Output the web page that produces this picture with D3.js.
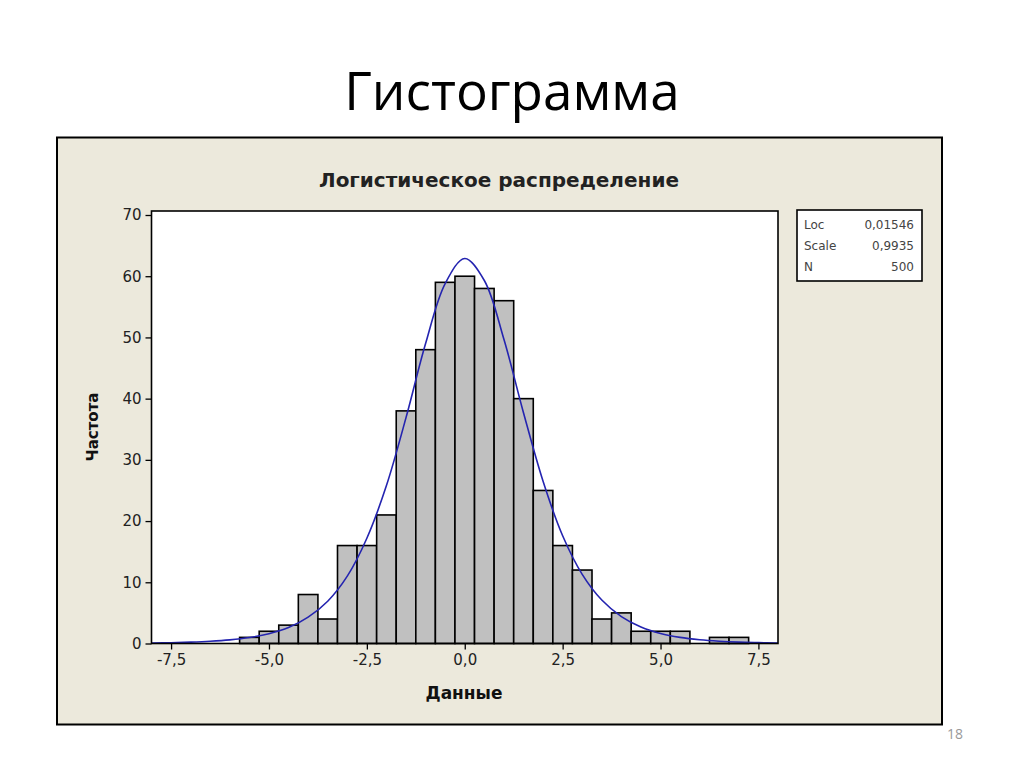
<!DOCTYPE html>
<html><head><meta charset="utf-8">
<script src="https://cdn.jsdelivr.net/npm/d3@7"></script>
<style>html,body{margin:0;padding:0;background:#fff;}svg{display:block;}</style>
</head><body>
<script>
// Data
const binCenters = [-5.5,-5.0,-4.5,-4.0,-3.5,-3.0,-2.5,-2.0,-1.5,-1.0,-0.5,0.0,0.5,1.0,1.5,2.0,2.5,3.0,3.5,4.0,4.5,5.0,5.5,6.0,6.5,7.0];
const binCounts  = [1,2,3,8,4,16,16,21,38,48,59,60,58,56,40,25,16,12,4,5,2,2,2,0,1,1];
const binWidth = 0.5;
const curveX = [-8,-7.5,-7,-6.5,-6,-5.5,-5,-4.5,-4,-3.5,-3,-2.5,-2,-1.5,-1,-0.5,0,0.5,1,1.5,2,2.5,3,3.5,4,4.5,5,5.5,6,6.5,7,7.5,8];
const curveY = [0.08,0.13,0.22,0.36,0.59,0.97,1.6,2.6,4.3,6.9,11.0,17.2,25.8,36.9,49.0,58.8,62.9,59.3,49.7,37.7,26.5,17.6,11.3,7.1,4.4,2.7,1.64,1.0,0.61,0.37,0.22,0.14,0.08];
const xTicks = [-7.5,-5.0,-2.5,0.0,2.5,5.0,7.5];
const xTickLabels = ["-7,5","-5,0","-2,5","0,0","2,5","5,0","7,5"];
const yTicks = [0,10,20,30,40,50,60,70];
const legendLabels = ["Loc","Scale","N"];
const legendValues = ["0,01546","0,9935","500"];

const W = 1024, H = 767;
const svg = d3.select("body").append("svg").attr("width", W).attr("height", H);
svg.append("rect").attr("width", W).attr("height", H).attr("fill", "#fff");

// slide title
svg.append("text").attr("x", 512).attr("y", 110).attr("text-anchor", "middle")
  .attr("font-family", "Open Sans, sans-serif").attr("font-size", 53).attr("fill", "#000")
  .text("Гистограмма");

// chart frame
svg.append("rect").attr("x", 57).attr("y", 137.5).attr("width", 885).attr("height", 587)
  .attr("fill", "#ece9dc").attr("stroke", "#000").attr("stroke-width", 2);

const font = "Tahoma, DejaVu Sans, sans-serif";
svg.append("text").attr("x", 499).attr("y", 187).attr("text-anchor", "middle")
  .attr("font-family", font).attr("font-weight", "bold").attr("font-size", 20).attr("fill", "#222")
  .text("Логистическое распределение");

const pl = 151.5, pr = 778, pt = 211, pb = 643.5;
const x = d3.scaleLinear().domain([-8, 8]).range([pl, pr]);
const y = d3.scaleLinear().domain([0, 70]).range([pb, 215]);

svg.append("rect").attr("x", pl).attr("y", pt).attr("width", pr - pl).attr("height", pb - pt)
  .attr("fill", "#fff");

// bars
svg.append("g").selectAll("rect").data(binCenters.map((c, i) => ({c, n: binCounts[i]})).filter(d => d.n > 0))
  .join("rect")
  .attr("x", d => x(d.c - binWidth / 2)).attr("width", d => x(d.c + binWidth / 2) - x(d.c - binWidth / 2))
  .attr("y", d => y(d.n)).attr("height", d => y(0) - y(d.n))
  .attr("fill", "#c0c0c0").attr("stroke", "#000").attr("stroke-width", 1.6);

// fitted curve
const line = d3.line().x((d, i) => x(curveX[i])).y(d => y(d)).curve(d3.curveCatmullRom);
svg.append("path").datum(curveY).attr("d", line).attr("fill", "none")
  .attr("stroke", "#2424b0").attr("stroke-width", 1.6);

// plot border
svg.append("rect").attr("x", pl).attr("y", pt).attr("width", pr - pl).attr("height", pb - pt)
  .attr("fill", "none").attr("stroke", "#000").attr("stroke-width", 1.6);

// axes
const xAxis = d3.axisBottom(x).tickValues(xTicks).tickFormat((d, i) => xTickLabels[i]).tickSize(6).tickPadding(5);
const gx = svg.append("g").attr("transform", `translate(0,${pb})`).call(xAxis);
gx.select(".domain").remove();
gx.selectAll("line").attr("stroke", "#000").attr("stroke-width", 1.3);
gx.selectAll("text").attr("font-family", font).attr("font-size", 15).attr("fill", "#222");

const yAxis = d3.axisLeft(y).tickValues(yTicks).tickSize(6).tickPadding(4);
const gy = svg.append("g").attr("transform", `translate(${pl},0)`).call(yAxis);
gy.select(".domain").remove();
gy.selectAll("line").attr("stroke", "#000").attr("stroke-width", 1.3);
gy.selectAll("text").attr("font-family", font).attr("font-size", 15).attr("fill", "#222");

// axis titles
svg.append("text").attr("x", 464).attr("y", 699).attr("text-anchor", "middle")
  .attr("font-family", font).attr("font-weight", "bold").attr("font-size", 17).attr("fill", "#111")
  .text("Данные");
svg.append("text").attr("transform", "translate(98,427) rotate(-90)").attr("text-anchor", "middle")
  .attr("font-family", font).attr("font-weight", "bold").attr("font-size", 15).attr("fill", "#111")
  .text("Частота");

// legend box
svg.append("rect").attr("x", 797).attr("y", 210).attr("width", 125).attr("height", 71)
  .attr("fill", "#fff").attr("stroke", "#000").attr("stroke-width", 1.6);
const lg = svg.append("g");
legendLabels.forEach((l, i) => {
  lg.append("text").attr("x", 804).attr("y", 229 + i * 21)
    .attr("font-family", font).attr("font-size", 12).attr("fill", "#444").text(l);
  lg.append("text").attr("x", 914).attr("y", 229 + i * 21).attr("text-anchor", "end")
    .attr("font-family", font).attr("font-size", 12).attr("fill", "#444").text(legendValues[i]);
});

// slide number
svg.append("text").attr("x", 955).attr("y", 739).attr("text-anchor", "middle")
  .attr("font-family", "Open Sans, sans-serif").attr("font-size", 14).attr("fill", "#999").text("18");
</script>
</body></html>
